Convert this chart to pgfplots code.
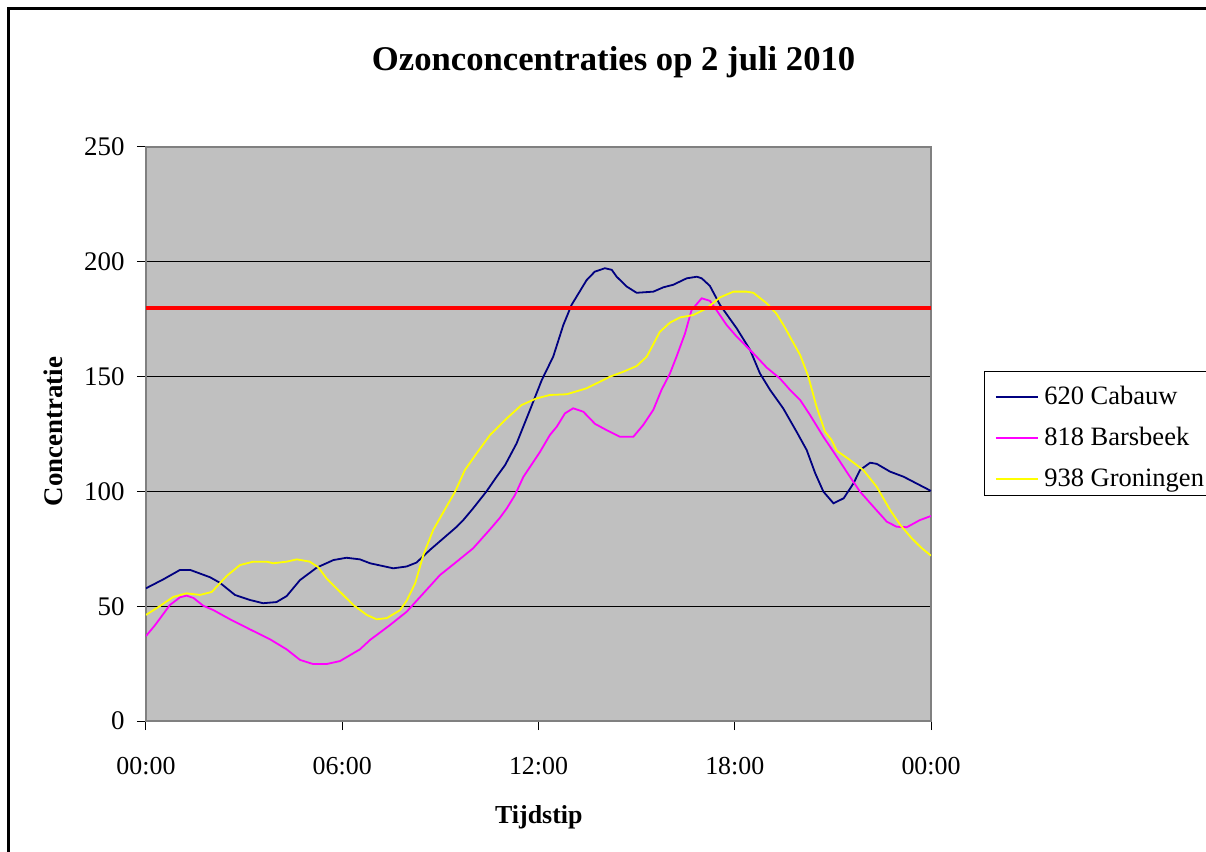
\documentclass[border=0pt]{standalone}
\usepackage{fontspec}
\setmainfont{Liberation Serif}
\usepackage{pgfplots}
\usepackage{pgfplotstable}
\pgfplotsset{compat=1.18}
\definecolor{plotbg}{HTML}{C0C0C0}
\definecolor{axgray}{HTML}{808080}
\definecolor{cabauw}{HTML}{000080}
\definecolor{barsbeek}{HTML}{FF00FF}
\definecolor{groningen}{HTML}{FFFF00}

\pgfplotstableread{
h v
0 57.8
0.53 61.7
1.04 65.8
1.35 65.8
1.96 62.6
2.26 60.2
2.72 54.9
3.18 52.7
3.58 51.3
3.99 51.8
4.30 54.4
4.71 61.4
5.22 66.8
5.73 70.1
6.13 71.1
6.54 70.4
6.85 68.7
7.56 66.5
7.97 67.3
8.27 69.0
8.68 74.5
9.50 84.6
9.70 87.5
10.0 92.6
10.41 100
10.72 106.4
10.98 111.5
11.33 120.9
11.74 135.5
12.10 148.5
12.45 158.7
12.76 172.5
13.01 181.2
13.47 192
13.72 195.7
14.03 197.2
14.24 196.5
14.39 193.5
14.70 189.2
15.0 186.5
15.51 187
15.82 188.9
16.12 190
16.53 192.8
16.84 193.5
16.99 192.8
17.24 189.5
17.55 181.2
18.06 171
18.47 161.6
18.77 151.4
19.08 144.2
19.48 136.2
19.89 126
20.20 118
20.46 107.9
20.71 99.9
21.02 94.8
21.33 97
21.63 103.5
21.83 109.3
22.14 112.5
22.34 112
22.75 108.6
23.16 106.4
24.0 100.2
}\cabauwdata

\pgfplotstableread{
h v
0 37
0.28 41.8
0.73 50.5
1.04 53.9
1.24 54.6
1.45 53.6
1.75 50.2
2.06 48.3
2.57 44.3
3.18 39.9
3.79 35.6
4.30 31.2
4.71 26.6
5.11 24.8
5.52 24.8
5.93 26.1
6.54 31.2
6.85 35.3
7.46 41.8
7.97 47.6
8.48 55.6
8.99 63.6
9.50 69.4
10.0 75.2
10.52 83.5
10.82 88.5
11.03 92.6
11.28 98.4
11.54 106.4
12.05 117.3
12.35 124.6
12.56 128.2
12.81 134
13.06 136.2
13.37 134.7
13.73 129.4
14.08 126.7
14.49 123.8
14.90 123.8
15.20 128.9
15.51 135.5
15.76 144.2
16.02 151.4
16.22 158.7
16.48 168.8
16.68 179
16.99 184.1
17.24 183
17.44 179
17.75 172.5
18.06 167.4
18.57 160.1
18.98 153.9
19.38 149.2
19.69 144.2
20.0 139.8
20.30 133.3
20.71 123.8
21.12 115.1
21.52 106.4
21.83 99.9
22.24 93.3
22.65 86.8
22.95 84.6
23.26 84.4
23.66 87.5
24.0 89.3
}\barsbeekdata

\pgfplotstableread{
h v
0 46.2
0.43 50.1
0.84 54.1
1.24 55.6
1.65 54.9
2.01 56.2
2.26 60
2.47 63.2
2.87 67.9
3.28 69.4
3.69 69.4
3.89 68.7
4.30 69.4
4.61 70.4
5.01 69.4
5.27 66.9
5.52 62.1
5.93 56.3
6.34 50.5
6.75 46.2
7.05 44.3
7.36 44.8
7.77 48.3
7.97 52.4
8.23 60
8.48 72.3
8.78 83.2
9.04 89.7
9.45 99.9
9.75 109.3
10.11 116.6
10.52 124.6
11.03 131.8
11.48 137.6
11.94 140.5
12.35 142
12.86 142.3
13.47 144.9
14.19 150
14.59 152.1
15.0 154.6
15.31 158.7
15.71 169.5
16.02 173.5
16.33 175.8
16.73 176.8
17.14 179.7
17.55 184.5
17.96 187
18.36 187
18.57 186.5
18.98 181.9
19.28 177.3
19.53 171.5
19.74 166
20.0 159.4
20.25 150
20.50 136.9
20.76 126
20.96 122.4
21.12 117.7
21.52 113.7
21.93 109.3
22.34 102
22.75 91.9
23.06 85.4
23.41 79.6
23.70 75.5
24.0 72
}\groningendata

\begin{document}
\begin{tikzpicture}
\draw[black, line width=1.3bp] (-68.65bp,-80bp) -- (-68.65bp,356.15bp) -- (545bp,356.15bp);
\node[font=\bfseries\fontsize{17.4}{20}\selectfont, anchor=base, inner sep=0pt] at (233.8bp,325bp) {Ozonconcentraties op 2 juli 2010};
\begin{axis}[
  at={(0,0)}, anchor=south west,
  scale only axis, width=392.5bp, height=287bp,
  xmin=0, xmax=24, ymin=0, ymax=250,
  axis background/.style={fill=plotbg},
  axis line style={draw=axgray, line width=0.8bp},
  xtick={0,6,12,18,24},
  xticklabels={00:00,06:00,12:00,18:00,00:00},
  ytick={0,50,100,150,200,250},
  ymajorgrids,
  grid style={black, line width=0.5bp},
  tick align=outside, tick pos=left,
  major tick length=4.5bp,
  tick style={black, line width=0.5bp},
  /pgf/number format/assume math mode=true,
  xticklabel style={font=\fontsize{13}{15}\selectfont, anchor=base, inner sep=0pt, yshift=-22.15bp},
  yticklabel style={font=\fontsize{13.5}{15}\selectfont, anchor=east, inner sep=0pt, xshift=-6bp},
  xlabel={Tijdstip}, ylabel={Concentratie},
  every axis x label/.style={at={(axis description cs:0.5004,-0.1782)}, anchor=base, font=\bfseries\fontsize{13}{15}\selectfont, inner sep=0pt},
  every axis y label/.style={at={(axis description cs:-0.107,0.504)}, rotate=90, anchor=base, font=\bfseries\fontsize{13.5}{15}\selectfont, inner sep=0pt},
  legend style={at={(axis description cs:1.0675,0.6103)}, anchor=north west, draw=black, line width=0.5bp, fill=white,
    font=\fontsize{13.3}{16}\selectfont, inner xsep=5.2bp, inner ysep=4bp, row sep=7.2bp, column sep=2.6bp,
    nodes={inner sep=0pt, text height=12.75bp, text depth=0.55bp}, cells={anchor=base west}},
  legend image code/.code={\draw[#1, line width=1.1bp] (0bp,3.75bp) -- (21bp,3.75bp);},
]
\addplot[cabauw, line width=0.9bp] table[x=h, y=v] {\cabauwdata};
\addlegendentry{620 Cabauw}
\addplot[barsbeek, line width=0.9bp] table[x=h, y=v] {\barsbeekdata};
\addlegendentry{818 Barsbeek}
\addplot[groningen, line width=0.9bp] table[x=h, y=v] {\groningendata};
\addlegendentry{938 Groningen}
\addplot[red, line width=2bp, forget plot] coordinates {(0,180) (24,180)};
\end{axis}
\pgfresetboundingbox
\path[use as bounding box] (-73bp,-65.5bp) rectangle (530bp,360.5bp);
\end{tikzpicture}
\end{document}
